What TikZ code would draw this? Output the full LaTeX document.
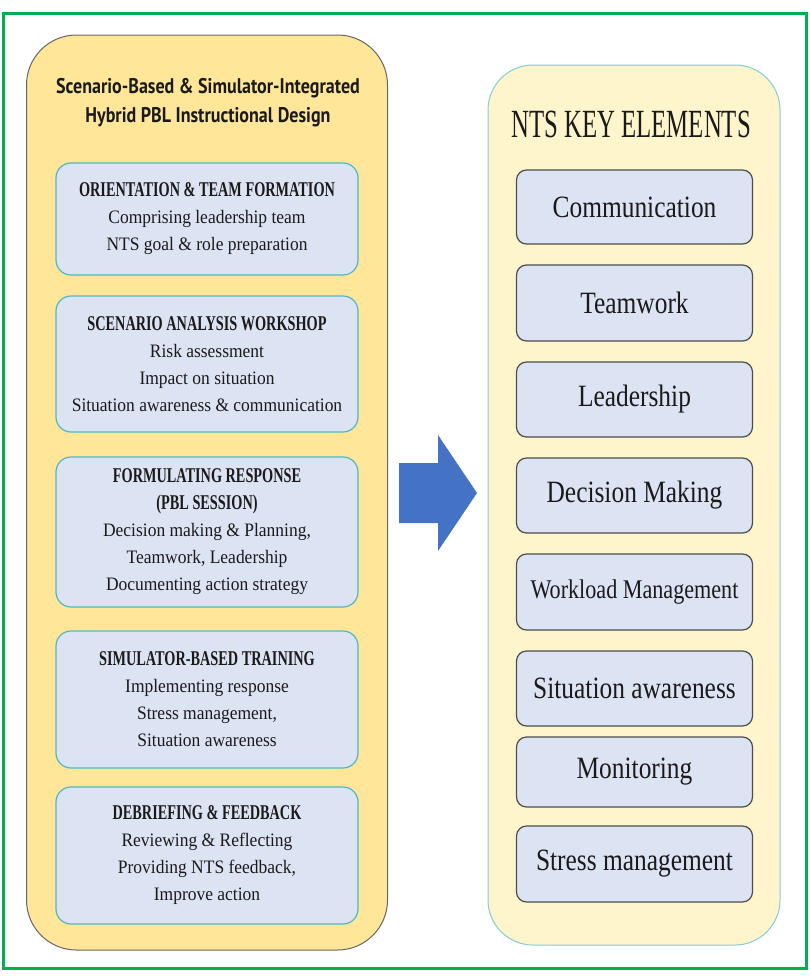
\documentclass[tikz,border=0pt]{standalone}
\usepackage{fontspec}
\setmainfont{Liberation Serif}
\newfontfamily\lheadfont[FakeStretch=0.68]{Liberation Serif}
\newfontfamily\lbodyfont[FakeStretch=0.92]{Liberation Serif}
\newfontfamily\rtitlefont[FakeStretch=0.62]{Liberation Serif}
\newfontfamily\rbodyfont[FakeStretch=0.82]{Liberation Serif}
\newfontfamily\ttlfont[FakeStretch=0.85]{PT Sans}
\definecolor{frameG}{HTML}{00B050}
\definecolor{leftY}{HTML}{FFE699}
\definecolor{rightY}{HTML}{FFF5CC}
\definecolor{boxB}{HTML}{DCE4F4}
\definecolor{tealB}{HTML}{4FB8C0}
\definecolor{arrowB}{HTML}{4472C4}
\definecolor{txt}{HTML}{1A1A1A}
\tikzset{
  lcont/.style={draw=gray!80!black, line width=1pt, fill=leftY, rounded corners=50pt},
  rcont/.style={draw=tealB!70, line width=1pt, fill=rightY, rounded corners=45pt},
  lbox/.style={draw=tealB, line width=1.2pt, fill=boxB, rounded corners=15pt, minimum width=302pt, align=center, inner sep=0pt, text=txt},
  rbox/.style={draw=gray!60!black, line width=1.2pt, fill=boxB, rounded corners=10pt, minimum width=236pt, align=center, inner sep=0pt, text=txt, font=\rbodyfont\fontsize{31}{34}\selectfont},
}
\newcommand{\hd}[1]{{\lheadfont\bfseries\fontsize{21}{27}\selectfont #1}}
\begin{document}
\begin{tikzpicture}[x=1pt,y=-1pt]
\useasboundingbox (0,0) rectangle (810,977);
\fill[white] (0,0) rectangle (810,977);
\draw[frameG, line width=3pt] (3,13) rectangle (806,968);
% left container
\node[lcont, minimum width=361pt, minimum height=915pt] (lc) at (207,492.5) {};
\node[text=txt, align=center, font=\ttlfont\bfseries\fontsize{21.2}{29}\selectfont] (lt) at (208,103) {Scenario-Based \& Simulator-Integrated\\Hybrid PBL Instructional Design};
% left boxes
\node[lbox, minimum height=112pt, font=\lbodyfont\fontsize{19}{27}\selectfont] (b1) at (207,219) {\hd{ORIENTATION \& TEAM FORMATION}\\Comprising leadership team\\NTS goal \& role preparation};
\node[lbox, minimum height=136pt, font=\lbodyfont\fontsize{19}{27}\selectfont] (b2) at (207,364) {\hd{SCENARIO ANALYSIS WORKSHOP}\\Risk assessment\\Impact on situation\\Situation awareness \& communication};
\node[lbox, minimum height=150pt, font=\lbodyfont\fontsize{19}{27}\selectfont] (b3) at (207,532) {\hd{FORMULATING RESPONSE}\\\hd{(PBL SESSION)}\\Decision making \& Planning,\\Teamwork, Leadership\\Documenting action strategy};
\node[lbox, minimum height=137pt, font=\lbodyfont\fontsize{19}{27}\selectfont] (b4) at (207,699.5) {\hd{SIMULATOR-BASED TRAINING}\\Implementing response\\Stress management,\\Situation awareness};
\node[lbox, minimum height=137pt, font=\lbodyfont\fontsize{19}{27}\selectfont] (b5) at (207,855.5) {\hd{DEBRIEFING \& FEEDBACK}\\Reviewing \& Reflecting\\Providing NTS feedback,\\Improve action};
% right container
\node[rcont, minimum width=292pt, minimum height=880pt] (rc) at (634,505) {};
\node[text=txt, font=\rtitlefont\fontsize{40}{42}\selectfont] (rt) at (631,124) {NTS KEY ELEMENTS};
\node[rbox, minimum height=74pt] (r1) at (634.5,207) {Communication};
\node[rbox, minimum height=76pt] (r2) at (634.5,303) {Teamwork};
\node[rbox, minimum height=75pt] (r3) at (634.5,399.5) {Leadership};
\node[rbox, minimum height=75pt] (r4) at (634.5,495.5) {Decision Making};
\node[rbox, minimum height=76pt, font=\rbodyfont\fontsize{27}{30}\selectfont] (r5) at (634.5,592) {Workload Management};
\node[rbox, minimum height=75pt] (r6) at (634.5,688.5) {Situation awareness};
\node[rbox, minimum height=70pt] (r7) at (634.5,772) {Monitoring};
\node[rbox, minimum height=76pt] (r8) at (634.5,864) {Stress management};
% block arrow
\fill[arrowB] (399,463) -- (438,463) -- (438,435) -- (477,493) -- (438,551) -- (438,523) -- (399,523) -- cycle;
\end{tikzpicture}
\end{document}
